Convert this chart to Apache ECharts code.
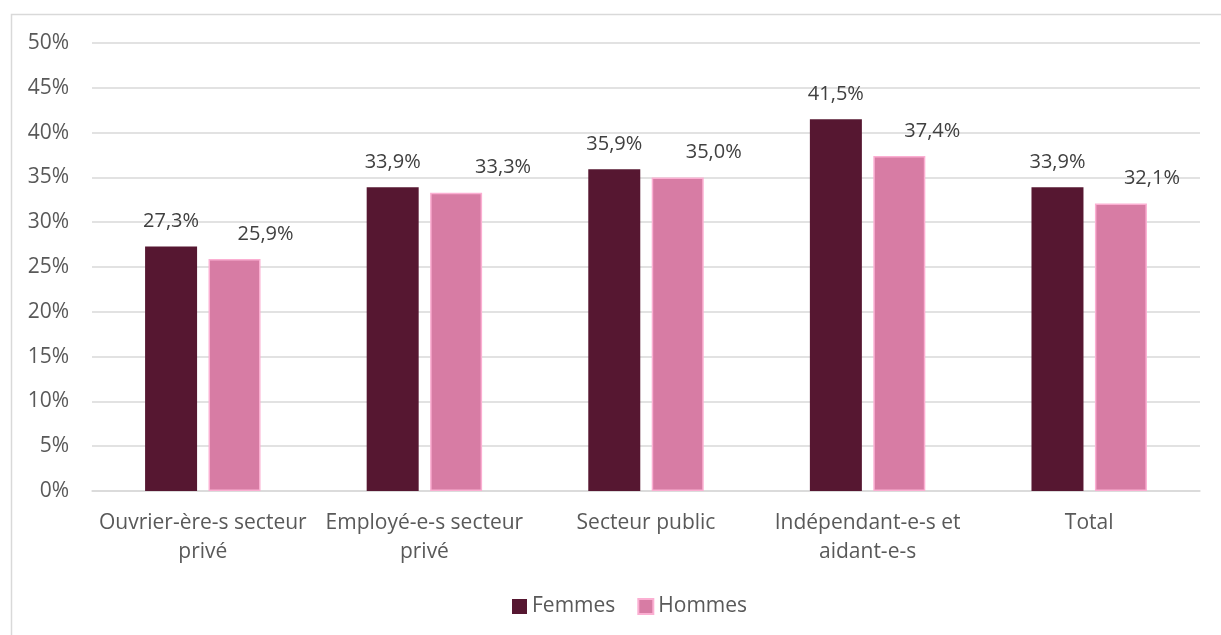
<!DOCTYPE html>
<html>
<head>
<meta charset="utf-8">
<script src="https://cdn.jsdelivr.net/npm/echarts@6/dist/echarts.min.js"></script>
<style>
html,body{margin:0;padding:0;background:#fff;}
#chart{width:1221px;height:635px;}
</style>
</head>
<body>
<div id="chart"></div>
<script>
const categories = ['Ouvrier-ère-s secteur\nprivé', 'Employé-e-s secteur\nprivé', 'Secteur public', 'Indépendant-e-s et\naidant-e-s', 'Total'];
const femmes = [27.3, 33.9, 35.9, 41.5, 33.9];
const hommes = [25.9, 33.3, 35.0, 37.4, 32.1];
const yTicks = [0, 5, 10, 15, 20, 25, 30, 35, 40, 45, 50];

// horizontal nudge (px) of each "Hommes" value label, set by hand
const hommesLabelShift = [31, 47, 36, 33, 31];

const FONT = '"Open Sans"';
const fmtPct = v => v.toFixed(1).replace('.', ',') + '%';
const labelStyle = {show: true, position: 'top', distance: 15, fontFamily: FONT, fontSize: 20, color: '#404040', formatter: p => fmtPct(p.value)};

const chart = echarts.init(document.getElementById('chart'), null, {renderer: 'canvas'});
chart.setOption({
  animation: false,
  backgroundColor: '#ffffff',
  textStyle: {fontFamily: FONT},
  graphic: [{
    type: 'rect',
    shape: {x: 11.5, y: 14.5, width: 1220, height: 630},
    style: {fill: 'none', stroke: '#d9d9d9', lineWidth: 1.5},
    silent: true
  }],
  grid: {left: 92, right: 21, top: 43, bottom: 144},
  legend: {
    bottom: 18,
    left: 512,
    padding: 0,
    itemWidth: 15,
    itemHeight: 15,
    itemGap: 22,
    icon: 'rect',
    textStyle: {fontFamily: FONT, fontSize: 21, color: '#595959'},
    data: ['Femmes', 'Hommes']
  },
  xAxis: {
    type: 'category',
    data: categories,
    axisLine: {lineStyle: {color: '#d9d9d9', width: 1.5}},
    axisTick: {show: false},
    axisLabel: {fontFamily: FONT, fontSize: 21, color: '#595959', lineHeight: 29, margin: 18, interval: 0}
  },
  yAxis: {
    type: 'value',
    min: yTicks[0],
    max: yTicks[yTicks.length - 1],
    interval: 5,
    axisLine: {show: false},
    axisTick: {show: false},
    splitLine: {lineStyle: {color: '#d9d9d9', width: 1.5}},
    axisLabel: {fontFamily: FONT, fontSize: 21, color: '#595959', margin: 23, formatter: v => v + '%'}
  },
  series: [{
    name: 'Femmes',
    type: 'bar',
    data: femmes,
    barWidth: 52,
    barGap: '22%',
    itemStyle: {color: '#561731'},
    label: labelStyle
  }, {
    name: 'Hommes',
    type: 'bar',
    data: hommes.map((v, i) => ({value: v, label: {offset: [hommesLabelShift[i], 0]}})),
    barWidth: 52,
    itemStyle: {color: '#d77ca4', borderColor: '#fbafd2', borderWidth: 1.5},
    label: labelStyle
  }]
});
</script>
</body>
</html>
